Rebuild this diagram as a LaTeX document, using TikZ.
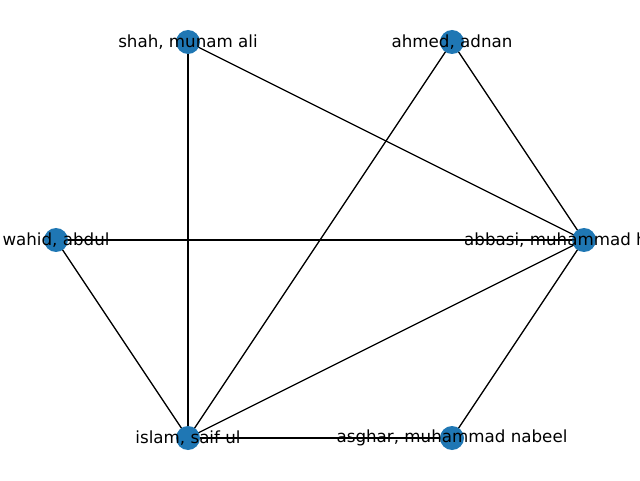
\documentclass[tikz,border=0pt]{standalone}
\usepackage{fontspec}
\setmainfont{DejaVu Sans}
\usetikzlibrary{backgrounds}
\definecolor{nxblue}{HTML}{1F77B4}
\tikzset{
  dot/.style={circle, fill=nxblue, minimum size=24pt, inner sep=0pt},
  lab/.style={font=\fontsize{16.7pt}{20pt}\selectfont, text=black, inner sep=0pt},
  edge/.style={draw=black, line width=1.3pt}
}
\begin{document}
\begin{tikzpicture}[x=1pt,y=1pt]
\useasboundingbox (0,0) rectangle (640,480);
\clip (0,0) rectangle (640,480);
\node[dot] (shah) at (188,438) {};
\node[dot] (ahmed) at (452,438) {};
\node[dot] (wahid) at (56,240) {};
\node[dot] (abbasi) at (584,240) {};
\node[dot] (islam) at (188,42) {};
\node[dot] (asghar) at (452,42) {};
\begin{scope}[on background layer]
\draw[edge] (shah.center) -- (islam.center);
\draw[edge] (shah.center) -- (abbasi.center);
\draw[edge] (ahmed.center) -- (abbasi.center);
\draw[edge] (ahmed.center) -- (islam.center);
\draw[edge] (wahid.center) -- (abbasi.center);
\draw[edge] (wahid.center) -- (islam.center);
\draw[edge] (islam.center) -- (abbasi.center);
\draw[edge] (islam.center) -- (asghar.center);
\draw[edge] (asghar.center) -- (abbasi.center);
\end{scope}
\node[lab] (lshah) at (shah) {shah, munam ali};
\node[lab] (lahmed) at (ahmed) {ahmed, adnan};
\node[lab] (lwahid) at (wahid) {wahid, abdul};
\node[lab, anchor=west] (labbasi) at ([xshift=-120pt]abbasi.center) {abbasi, muhammad h};
\node[lab] (lislam) at (islam) {islam, saif ul};
\node[lab] (lasghar) at (asghar) {asghar, muhammad nabeel};
\end{tikzpicture}
\end{document}
